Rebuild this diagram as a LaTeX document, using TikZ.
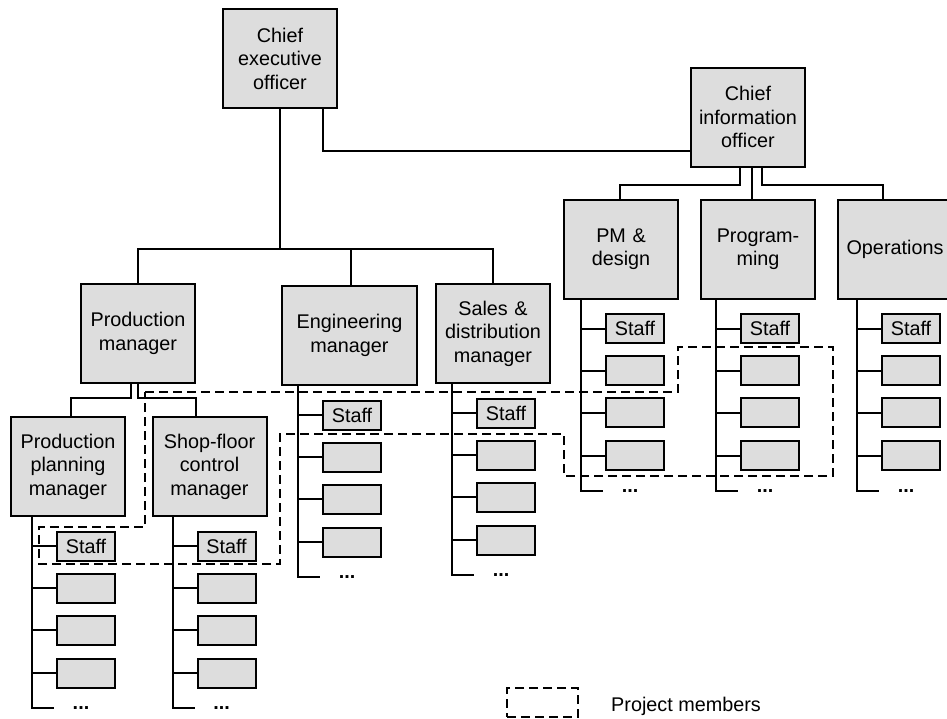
\documentclass[tikz,border=0pt]{standalone}
\usepackage{fontspec}
\setmainfont{Liberation Sans}
\usetikzlibrary{positioning}
\definecolor{boxgray}{RGB}{221,221,221}
\newcommand{\orgfont}{\fontsize{19.8}{23.5}\selectfont}
\tikzset{manager/.style={rectangle, draw, fill=boxgray, line width=2pt, text width=110pt, align=center,
 minimum width=114pt, minimum height=99pt, inner sep=0pt, font=\orgfont}}
\tikzset{staffbox/.style={rectangle, draw, fill=boxgray, line width=2pt, minimum width=58pt,
 minimum height=29pt, inner sep=0pt, anchor=west, font=\orgfont}}
\tikzset{line/.style={draw, line width=2pt}}
\tikzset{project/.style={draw, line width=2pt, dash pattern=on 9pt off 5pt}}
\tikzset{more/.style={inner sep=0pt, anchor=base, font=\orgfont\bfseries}}

\begin{document}
\begin{tikzpicture}[x=1pt, y=-1pt]
        \useasboundingbox (0,0) rectangle (947,718);

        \node[manager]   (ceo) at (280,58.5) {Chief\\executive\\officer};
        \node[manager]   (cio) at (748,117) {Chief\\information\\officer};
        \node[manager]   (pmd) at (621,249) {PM \&\\design};
        \node[manager]   (prog) at (758,249) {Program-\\ming};
        \node[manager]   (ops) at (895,249) {Operations};
        \node[manager]   (prodm) at (138,333.5) {Production\\manager};
        \node[manager, minimum width=135pt] (engm) at (349.5,335.5) {Engineering\\manager};
        \node[manager]   (salesm) at (493,333.5) {Sales \&\\distribution\\manager};
        \node[manager]   (ppm) at (68,466.5) {Production\\planning\\manager};
        \node[manager]   (sfcm) at (209.5,466.5) {Shop-floor\\control\\manager};

        \coordinate (bus) at (0,249);
        \path[line] (ceo.south) --          (ceo.south |- bus);
        \path[line] (prodm.north) |-        (salesm.north |- bus) -- (salesm.north);
        \path[line] ([xshift=1.5pt]engm.north) -- ([xshift=1.5pt]engm.north |- bus);
        \path[line] ([xshift=43pt]ceo.south) |- ([yshift=-34pt]cio.west);

        \path[line] ([xshift=-8pt]cio.south) -- ++(0,17) -| ([xshift=-1pt]pmd.north);
        \path[line] ([xshift=4pt]cio.south) --  ([xshift=-6pt]prog.north);
        \path[line] ([xshift=14pt]cio.south) -- ++(0,17) -| ([xshift=-12pt]ops.north);
        \path[line] ([xshift=-7pt]prodm.south) -- ++(0,14) -| ([xshift=3pt]ppm.north);
        \path[line] (prodm.south) -- ++(0,14) -| ([xshift=-13.5pt]sfcm.north);

        \foreach \boss/\dx in {ppm/22, sfcm/21, engm/17, salesm/17, pmd/18, prog/16, ops/20}{
            \coordinate (\boss-top) at ([xshift=\dx pt]\boss.south west);
            \node[staffbox] (\boss-s0) at ([shift={(24,29)}]\boss-top) {Staff};
            \foreach \k/\dy in {1/71, 2/113, 3/156}
                \node[staffbox] (\boss-s\k) at ([shift={(24,\dy)}]\boss-top) {};
            \path[line] (\boss-top) -- ++(0,191) coordinate (\boss-end) -- ++(22,0);
            \foreach \k in {0,...,3}
                \path[line] (\boss-s\k.west) -- (\boss-s\k.west -| \boss-top);
            \node[more] (\boss-more) at ([shift={(49,1.5)}]\boss-end) {...};
        }

        \draw[project] (145,392) -- (678,392) -- (678,347) -- (833,347) -- (833,476) -- (564,476)
            -- (564,434) -- (280,434) -- (280,564) -- (39,564) -- (39,527) -- (145,527) -- cycle;

        \node[project, minimum width=71pt, minimum height=29pt] (key) at (542.5,702.5) {};
        \node[right=32pt of key, inner sep=0pt, yshift=-4pt, font=\orgfont] (keytext) {Project members};

     \end{tikzpicture}
\end{document}
